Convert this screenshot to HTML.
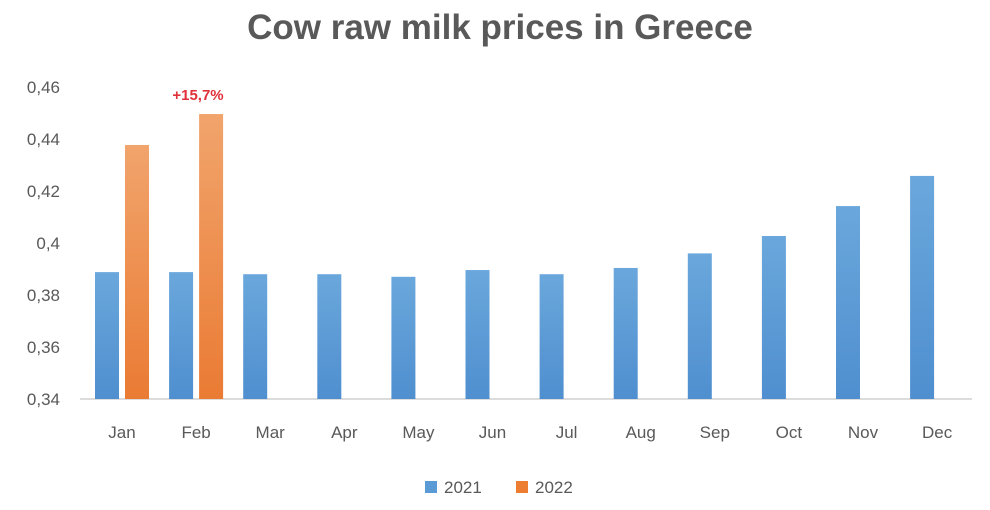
<!DOCTYPE html>
<html><head><meta charset="utf-8"><style>
body{margin:0;background:#fff;width:990px;height:505px;overflow:hidden;font-family:"Liberation Sans",sans-serif}
</style></head><body>
<svg id="c" width="990" height="505">
<defs>
<linearGradient id="gb" x1="0" y1="0" x2="0" y2="1"><stop offset="0" stop-color="#6aa7dc"/><stop offset="1" stop-color="#4f8fcf"/></linearGradient>
<linearGradient id="go" x1="0" y1="0" x2="0" y2="1"><stop offset="0" stop-color="#f1a46c"/><stop offset="1" stop-color="#ea7b34"/></linearGradient>
</defs>
<text x="500" y="39" text-anchor="middle" font-size="35" font-weight="bold" fill="#595959">Cow raw milk prices in Greece</text>
<text x="198" y="100" text-anchor="middle" font-size="15" font-weight="bold" fill="#e0303a">+15,7%</text>
<line x1="80" y1="399" x2="972" y2="399" stroke="#d0d0d0" stroke-width="1.5"/>
<g id="bars"></g><g id="ylab"></g><g id="xlab"></g>
<g>
<rect x="425" y="481" width="12" height="12" fill="#5b9bd5"/>
<text x="444" y="493" font-size="17" fill="#595959">2021</text>
<rect x="516" y="481" width="12" height="12" fill="#ed7d31"/>
<text x="535" y="493" font-size="17" fill="#595959">2022</text>
</g>
</svg>
<script>
const categories=["Jan","Feb","Mar","Apr","May","Jun","Jul","Aug","Sep","Oct","Nov","Dec"];
const values2021=[0.3888,0.3888,0.388,0.388,0.387,0.3896,0.388,0.3904,0.396,0.4027,0.4142,0.4258];
const values2022=[0.4377,0.4496];
const yTicks=[0.34,0.36,0.38,0.40,0.42,0.44,0.46];
const yTickLabels=["0,34","0,36","0,38","0,4","0,42","0,44","0,46"];
const NS="http://www.w3.org/2000/svg";
const y=v=>399-(v-0.34)/0.12*312;
const x=i=>122+i*74.1;
const bars=document.getElementById('bars'),yl=document.getElementById('ylab'),xl=document.getElementById('xlab');
function mk(tag,a){const e=document.createElementNS(NS,tag);for(const k in a)e.setAttribute(k,a[k]);return e;}
yTicks.forEach((t,i)=>{const e=mk('text',{x:60,y:y(t)+6,'text-anchor':'end','font-size':17,fill:'#595959'});


e.textContent=yTickLabels[i];yl.appendChild(e);});
categories.forEach((c,i)=>{const e=mk('text',{x:x(i),y:438,'text-anchor':'middle','font-size':17,fill:'#595959'});


e.textContent=c;xl.appendChild(e);
const v=values2021[i];const b=mk('rect',{x:x(i)-27,y:y(v),width:24,height:399-y(v),fill:'url(#gb)'});


bars.appendChild(b);
if(i<values2022.length){const w=values2022[i];const o=mk('rect',{x:x(i)+3,y:y(w),width:24,height:399-y(w),fill:'url(#go)'});


bars.appendChild(o);}
});
</script>
</body></html>
